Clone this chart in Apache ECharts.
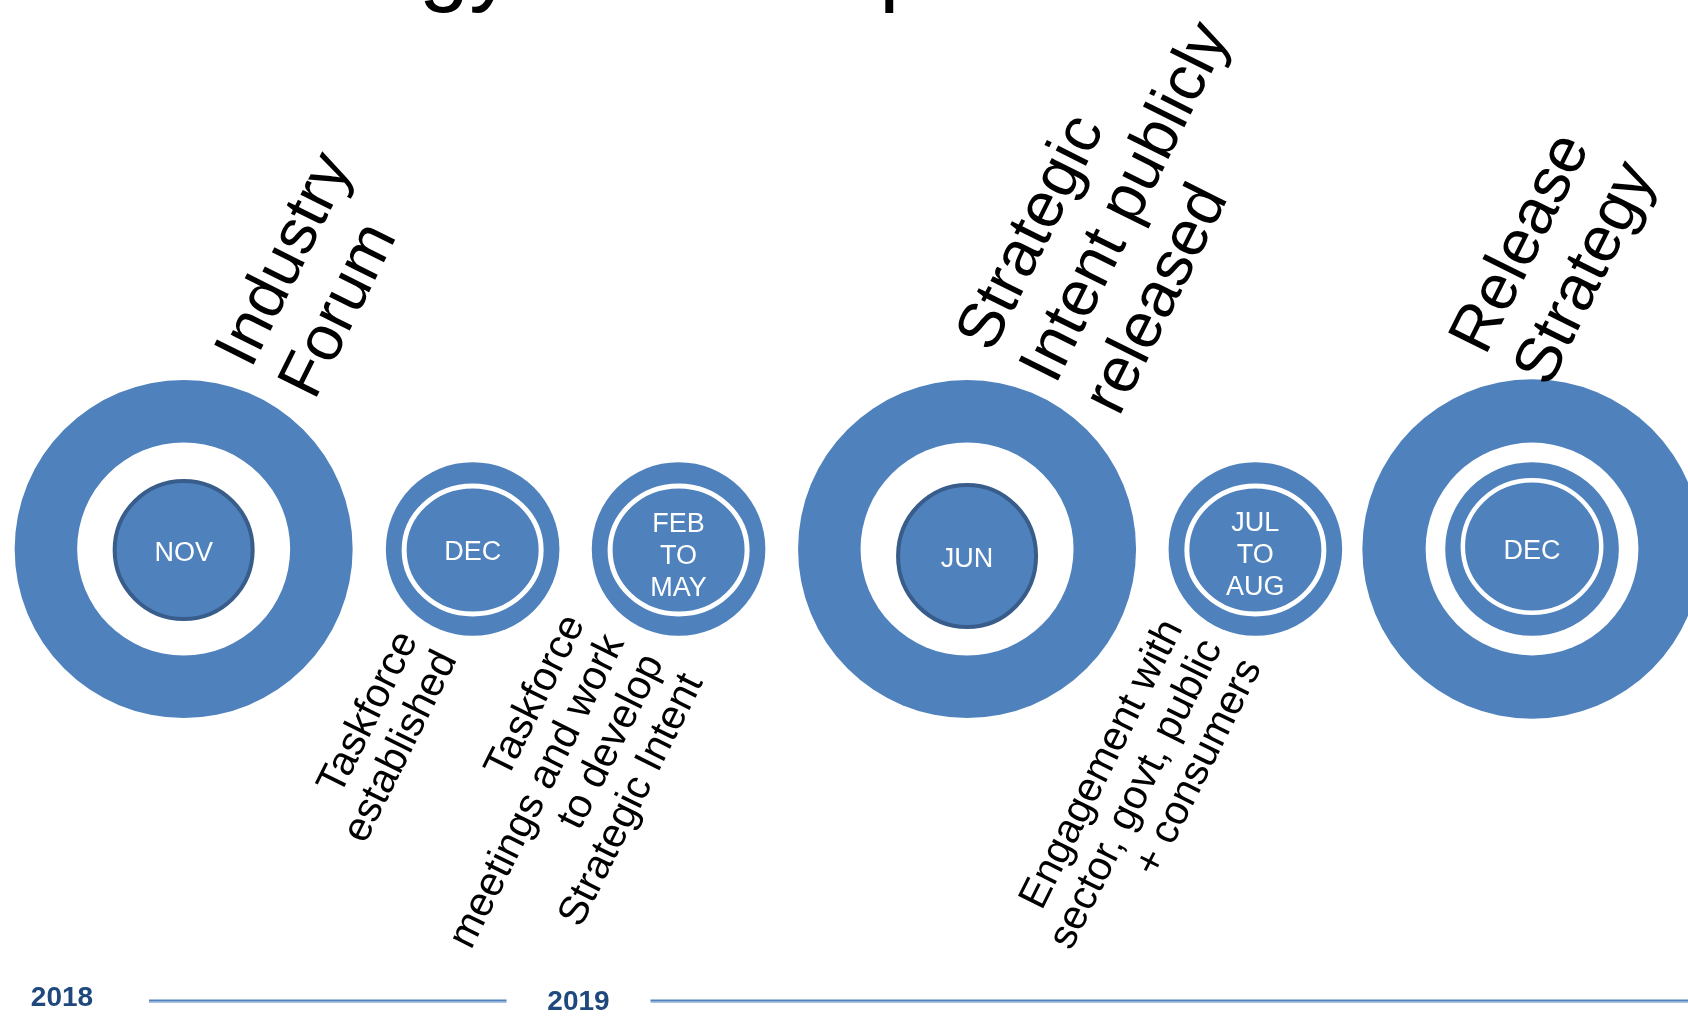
<!DOCTYPE html>
<html>
<head>
<meta charset="utf-8">
<script src="https://cdn.jsdelivr.net/npm/echarts@6/dist/echarts.min.js"></script>
<style>
  html, body { margin: 0; padding: 0; background: #ffffff; }
  #chart { width: 1688px; height: 1017px; }
</style>
</head>
<body>
<div id="chart"></div>
<script>
// ---------------- DATA ----------------
const monthLabels = ['NOV', 'DEC', 'FEB\nTO\nMAY', 'JUN', 'JUL\nTO\nAUG', 'DEC'];
// position of each event along the timeline (% of its width)
const timelinePos = [10.88, 28.0, 40.2, 57.29, 74.37, 90.76];
const eventKind = ['milestone', 'activity', 'activity', 'milestone', 'activity', 'release'];
const aboveLabels = ['Industry\nForum', '', '', 'Strategic\nIntent publicly\nreleased', '', 'Release\nStrategy'];
const belowLabels = ['', 'Taskforce\nestablished', 'Taskforce\nmeetings and work\nto develop\nStrategic Intent', '', 'Engagement with\nsector, govt, public\n+ consumers', ''];
const years = ['2018', '2019'];
const yearPos = [3.67, 34.27];
const titleText = 'Strategy Roadmap';

// ---------------- STYLE / LAYOUT ----------------
const BLUE = '#4F81BD';
const DARK = '#385D8A';
const YEAR_COLOR = '#1F497D';
const FONT = '"Liberation Sans", Arial, Helvetica, sans-serif';
const ROT = 63.5 * Math.PI / 180;
const DOWN = [Math.sin(ROT), Math.cos(ROT)];
const KIND = {
  milestone: { outerR: 169, holeR: 106.5 , innerR: 69 },
  activity:  { outerR: 86.8, ringRx: 68.5, ringRy: 64, ringDy: 1 },
  release:   { outerR: 169.7, holeR: 106.4, discR: 86.8, ringRx: 69.2, ringRy: 66.2, ringDy: -2.5 }
};
const innerDy = [1, 0, 0, 7, 0, 0];
const innerStretch = [1, 1, 1, 1.03, 1, 1];
const monthDy = [4.5, 3.5, 7.5, 10.5, 6.5, 2.3];
// anchor of label blocks relative to the circle centre (px)
const aboveAnchor = [[134, -146], null, null, [155, -130], null, [20, -159]];
const belowAnchor = [null, [-52.6, 91.5], [-91.3, 75], null, [-70.3, 79.8], null];
const ABOVE = { size: 64, lh: 71 };
const BELOW = { size: 41, lh: 44 };
const yearDy = [0, 4];
const yearLineGap = [87, 72];

function renderEvent(params, api) {
  const i = api.value(2);
  const c = api.coord([api.value(0), api.value(1)]);
  const cx = c[0], cy = c[1];
  const k = eventKind[i];
  const s = KIND[k];
  const ch = [];
  ch.push({ type: 'circle', shape: { cx: cx, cy: cy, r: s.outerR }, style: { fill: BLUE } });
  if (k === 'milestone') {
    ch.push({ type: 'circle', shape: { cx: cx, cy: cy, r: s.holeR }, style: { fill: '#fff' } });
    ch.push({ type: 'ellipse', shape: { cx: cx, cy: cy + innerDy[i], rx: s.innerR, ry: s.innerR * innerStretch[i] },
      style: { fill: BLUE, stroke: DARK, lineWidth: 4 } });
  } else if (k === 'activity') {
    ch.push({ type: 'ellipse', shape: { cx: cx, cy: cy + s.ringDy, rx: s.ringRx, ry: s.ringRy },
      style: { fill: BLUE, stroke: '#fff', lineWidth: 5 } });
  } else {
    ch.push({ type: 'circle', shape: { cx: cx, cy: cy, r: s.holeR }, style: { fill: '#fff' } });
    ch.push({ type: 'circle', shape: { cx: cx, cy: cy, r: s.discR }, style: { fill: BLUE } });
    ch.push({ type: 'ellipse', shape: { cx: cx, cy: cy + s.ringDy, rx: s.ringRx, ry: s.ringRy },
      style: { fill: BLUE, stroke: '#fff', lineWidth: 4.5 } });
  }
  ch.push({ type: 'text', x: cx, y: cy + monthDy[i],
    style: { text: monthLabels[i], fill: '#fff', font: '27px ' + FONT, align: 'center', verticalAlign: 'middle', lineHeight: 32 } });
  return { type: 'group', children: ch };
}

function rotatedLabel(text, px, py, cfg, align, vAlign) {
  // baseline of the anchoring line in the text's local frame
  const yb = vAlign === 'bottom' ? (-cfg.lh / 2 + 0.33 * cfg.size) : (cfg.lh / 2 + 0.33 * cfg.size);
  return {
    type: 'text',
    x: px - yb * DOWN[0],
    y: py - yb * DOWN[1],
    rotation: ROT,
    style: { text: text, fill: '#000', font: cfg.size + 'px ' + FONT, align: align, verticalAlign: vAlign, lineHeight: cfg.lh }
  };
}

function renderLabels(params, api) {
  const i = api.value(2);
  const c = api.coord([api.value(0), api.value(1)]);
  const ch = [];
  if (aboveLabels[i]) {
    const a = aboveAnchor[i];
    ch.push(rotatedLabel(aboveLabels[i], c[0] + a[0], c[1] + a[1], ABOVE, 'left', 'bottom'));
  }
  if (belowLabels[i]) {
    const b = belowAnchor[i];
    ch.push(rotatedLabel(belowLabels[i], c[0] + b[0], c[1] + b[1], BELOW, 'right', 'top'));
  }
  return { type: 'group', children: ch };
}

function renderYear(params, api) {
  const i = api.value(2);
  const c = api.coord([api.value(0), api.value(1)]);
  const x0 = c[0] + yearLineGap[i];
  const x1 = i + 1 < yearPos.length ? api.coord([yearPos[i + 1], api.value(1)])[0] - 72 : api.getWidth();
  const ly = c[1] + 2.5;
  return {
    type: 'group',
    children: [
      { type: 'line', shape: { x1: x0, y1: ly + 1.8, x2: x1, y2: ly + 1.8 }, style: { stroke: '#A9C0DF', lineWidth: 1.4 } },
      { type: 'line', shape: { x1: x0, y1: ly, x2: x1, y2: ly }, style: { stroke: BLUE, lineWidth: 2.2 } },
      { type: 'text', x: c[0], y: c[1] + yearDy[i],
        style: { text: years[i], fill: YEAR_COLOR, font: 'bold 28px ' + FONT, align: 'center', verticalAlign: 'middle' } }
    ]
  };
}

const chart = echarts.init(document.getElementById('chart'), null, { renderer: 'canvas' });
chart.setOption({
  animation: false,
  backgroundColor: '#ffffff',
  grid: { left: 0, right: 0, top: 100, bottom: 19 },
  xAxis: { type: 'value', min: 0, max: 100, show: false },
  yAxis: { type: 'value', min: -1, max: 1, show: false },
  graphic: [{
    type: 'text', x: 179, y: -31,
    style: { text: titleText, fill: '#000', font: '90px ' + FONT, verticalAlign: 'middle' }
  }],
  series: [
    { type: 'custom', name: 'years', renderItem: renderYear, z: 1,
      data: yearPos.map((p, i) => [p, -1, i]), encode: { x: 0, y: 1 }, clip: false },
    { type: 'custom', name: 'events', renderItem: renderEvent, z: 2,
      data: timelinePos.map((p, i) => [p, 0, i]), encode: { x: 0, y: 1 }, clip: false },
    { type: 'custom', name: 'labels', renderItem: renderLabels, z: 3,
      data: timelinePos.map((p, i) => [p, 0, i]), encode: { x: 0, y: 1 }, clip: false }
  ]
});
</script>
</body>
</html>
